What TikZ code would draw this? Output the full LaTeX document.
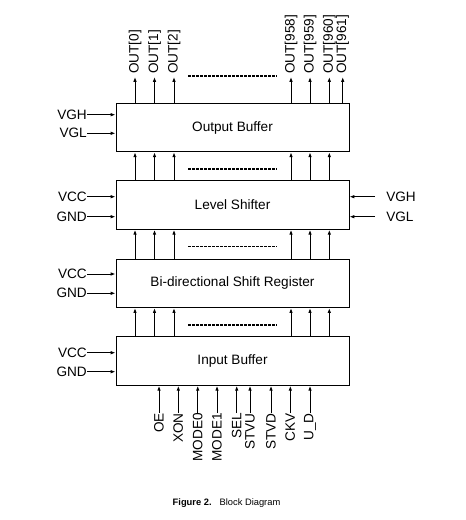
\documentclass[tikz,border=0pt]{standalone}
\usepackage{fontspec}
\setmainfont{Liberation Sans}
\usetikzlibrary{arrows.meta}
\begin{document}
\begin{tikzpicture}[x=0.75pt,y=-0.75pt,
  blk/.style={draw, line width=0.75pt, minimum width=174.75pt, minimum height=36.4pt, inner sep=0pt, font=\fontsize{10.2}{12}\selectfont},
  arr/.style={line width=0.7pt, -{Latex[length=3.6pt,width=2.6pt]}},
  lbl/.style={inner sep=0pt, font=\fontsize{10.2}{12}\selectfont},
  dots/.style={line width=1pt, dash pattern=on 2.2pt off 0.8pt}]
\useasboundingbox (0,0) rectangle (465,520);
% blocks
\node[blk] (ob) at (232.5,127.5) {Output Buffer};
\node[blk] (ls) at (232.5,205) {Level Shifter};
\node[blk] (sr) at (232.5,283.3) {Bi-directional Shift Register};
\node[blk] (ib) at (232.5,361) {Input Buffer};
% outputs
\foreach \n/\x/\t in {1/135/OUT[0],2/154.5/OUT[1],3/174/OUT[2],4/291/OUT[958],5/310/OUT[959],6/329.3/OUT[960],7/342.7/OUT[961]}{
  \node[lbl, inner xsep=2.2pt, rotate=90, anchor=west] (o\n) at (\x,77) {\t};
  \draw[arr] (ob.north -| o\n.west) -- (o\n.west);
}
% inter-block arrows
\foreach \x in {135,154.5,174,291,310,329.3}{
  \coordinate (k) at (\x,0);
  \draw[arr] (ls.north -| k) -- (ob.south -| k);
  \draw[arr] (sr.north -| k) -- (ls.south -| k);
  \draw[arr] (ib.north -| k) -- (sr.south -| k);
}
% dashed ellipses
\draw[dots] (188,76) -- (277,76);
\draw[dots] (188,169) -- (277,169);
\draw[dots] (188,246.7) -- (277,246.7);
\draw[dots] (188,325) -- (277,325);
% left inputs
\foreach \n/\y/\t/\b in {a/114.7/VGH/ob,b/133.3/VGL/ob,c/196.7/VCC/ls,d/216.7/GND/ls,e/274/VCC/sr,f/293.3/GND/sr,g/352.7/VCC/ib,h/371.7/GND/ib}{
  \node[lbl, anchor=east] (l\n) at (87,\y) {\t};
  \draw[arr] (l\n.east) -- (\b.west |- l\n.east);
}
% right inputs
\foreach \n/\y/\t in {a/196.7/VGH,b/216.7/VGL}{
  \node[lbl, inner xsep=8.3pt, anchor=west] (r\n) at (375,\y) {\t};
  \draw[arr] (r\n.west) -- (ls.east |- r\n.west);
}
% bottom inputs
\foreach \n/\x/\t in {1/159/OE,2/178.3/XON,3/197.7/MODE0,4/217/MODE1,5/236.7/SEL,6/250/STVU,7/271/STVD,8/290.3/CKV,9/310/U\_D}{
  \node[lbl, rotate=90, anchor=east] (b\n) at (\x,413) {\t};
  \draw[arr] (b\n.east) -- (ib.south -| b\n.east);
}
% caption
\node[inner sep=0pt, font=\fontsize{7}{8}\selectfont] (cap) at (226.5,503) {\textbf{Figure 2.}\hspace{6pt}Block Diagram};
\end{tikzpicture}
\end{document}
